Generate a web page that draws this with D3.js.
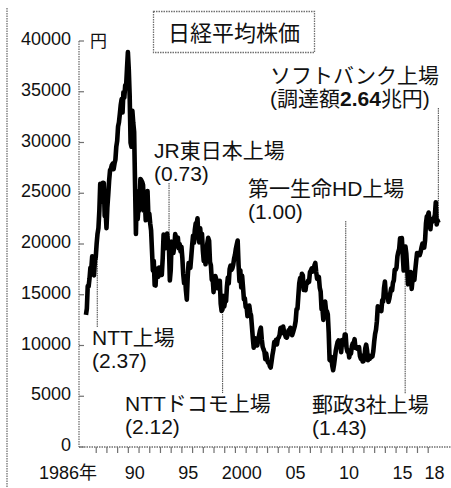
<!DOCTYPE html>
<html>
<head>
<meta charset="utf-8">
<script src="https://cdn.jsdelivr.net/npm/d3@7"></script>
<style>
  body { margin: 0; background: #fff; }
  text { font-family: "Liberation Sans", "Noto Sans CJK JP", sans-serif; fill: #111; }
</style>
</head>
<body>
<svg id="chart" width="451" height="488"></svg>
<script>
// Nikkei average, monthly closes (yen)
const close1986to1995 = [
  13024, 13640, 15860, 15825, 16592, 17654, 17620, 18787, 17853, 16910, 18326, 18701,
  20048, 21032, 21567, 23275, 25929, 24176, 24489, 26029, 26011, 22765, 23330, 21564,
  23623, 24885, 26260, 27271, 27417, 27769, 27912, 27366, 27924, 28299, 29579, 30159,
  31581, 31986, 32839, 33713, 34267, 32949, 34954, 34431, 35637, 35549, 37269, 38916,
  37189, 34591, 29980, 29585, 33131, 31940, 31036, 25978, 20984, 25194, 22454, 23849,
  23293, 26409, 26292, 26111, 25790, 23291, 24121, 22336, 23916, 25222, 22688, 22984,
  22023, 21339, 19346, 17391, 18348, 15952, 15910, 17555, 17399, 16767, 17684, 16925,
  17024, 16953, 18591, 20919, 20552, 19591, 20380, 21027, 20106, 19704, 16408, 17417,
  20229, 19997, 19112, 19725, 20974, 20644, 20449, 20629, 19564, 19990, 19263, 19723,
  18650, 17053, 16140, 16807, 15437, 14518, 16678, 18117, 17913, 17655, 18744, 19868
];
const close1996to2005 = [
  20813, 20125, 21407, 22041, 21956, 22531, 20693, 20167, 21556, 20466, 21020, 19361,
  18330, 18557, 18003, 19151, 20069, 20605, 20331, 18229, 17888, 16459, 16636, 15259,
  16628, 16832, 16527, 15641, 15671, 15830, 16379, 14108, 13406, 13565, 14884, 13842,
  14499, 14368, 15837, 16702, 16112, 17530, 17862, 17437, 17605, 17942, 18558, 18934,
  19540, 19960, 20337, 17974, 16332, 17411, 15727, 16861, 15747, 14540, 14649, 13786,
  13844, 12884, 12999, 13934, 13262, 12969, 11861, 10714, 9775, 10367, 10697, 10543,
  9998, 10588, 11025, 11493, 11764, 10622, 9877, 9619, 9383, 8640, 9216, 8579,
  8340, 8363, 7973, 7831, 8425, 9083, 9563, 10344, 10219, 10560, 10101, 10677,
  10784, 11042, 11715, 11762, 11236, 11858, 11326, 11082, 10824, 10771, 11031, 11489,
  11388, 11741, 11669, 11009, 11277, 11584, 11900, 12414, 13574, 13607, 14872, 16111
];
const close2006to2018 = [
  16650, 16205, 17060, 16907, 15467, 15505, 15457, 16141, 16128, 16399, 16274, 17226,
  17383, 17604, 17288, 17400, 17876, 18138, 17249, 16569, 16786, 16737, 15681, 15308,
  13592, 13603, 12526, 13850, 14339, 13481, 13377, 13073, 11260, 8577, 8512, 8860,
  7994, 7568, 8110, 8828, 9523, 9958, 10357, 10493, 10133, 10035, 9346, 10546,
  10198, 10126, 11090, 11057, 9769, 9383, 9537, 8824, 9369, 9202, 9937, 10229,
  10238, 10624, 9755, 9850, 9694, 9816, 9833, 8955, 8700, 8988, 8435, 8455,
  8803, 9723, 10084, 9521, 8543, 9007, 8695, 8840, 8870, 8928, 9446, 10395,
  11139, 11559, 12398, 13861, 13775, 13677, 13668, 13389, 14456, 14328, 15662, 16291,
  14915, 14841, 14828, 14304, 14632, 15162, 15621, 15425, 16174, 16414, 17460, 17451,
  17674, 18798, 19207, 19520, 20563, 20236, 20585, 18890, 17388, 19083, 19747, 19034,
  17518, 16027, 16759, 16666, 17235, 15576, 16569, 16887, 16450, 17425, 18308, 19114,
  19041, 19119, 18909, 19197, 19651, 20033, 19925, 19646, 20356, 22012, 22725, 22765,
  23098, 22068, 21454, 22468, 22202, 22305, 22554, 22865, 24120, 21920, 22351, 22100
];
const firstYear = 1986;

const yTicks = [0, 5000, 10000, 15000, 20000, 25000, 30000, 35000, 40000];
const xLabelYears = [1986, 1990, 1995, 2000, 2005, 2010, 2015, 2018];
const xLabelText = ["1986年", "90", "95", "2000", "05", "10", "15", "18"];

// big IPOs: name, amount raised (trillion yen), listing date (decimal year)
const ipoNames = ["NTT上場", "JR東日本上場", "NTTドコモ上場", "第一生命HD上場", "郵政3社上場", "ソフトバンク上場"];
const ipoAmounts = ["2.37", "0.73", "2.12", "1.00", "1.43", "2.64"];
const ipoDates = [1987.1, 1993.8, 1998.8, 2010.3, 2015.85, 2018.95];

// label placement (left x, first line centre y)
const ipoLabelPos = [[92, 337], [154, 150], [125, 403], [248, 188], [312, 404], [270, 75]];

const svg = d3.select("#chart");

const closes = close1986to1995.concat(close1996to2005, close2006to2018);
const series = closes.map((v, i) => ({ t: firstYear + (i + 0.5) / 12, v: v }));

const x = d3.scaleLinear().domain([1986, 2018]).range([85.5, 428.2]);
const y = d3.scaleLinear().domain([0, 40000]).range([447, 41]);

const axisColor = "#707070";

// page border on the left
svg.append("line")
  .attr("x1", 7).attr("x2", 7).attr("y1", 8).attr("y2", 488)
  .attr("stroke", axisColor).attr("stroke-width", 1.3).attr("stroke-dasharray", "1.5,1");

// title box
svg.append("rect")
  .attr("x", 153.5).attr("y", 11.5).attr("width", 161).attr("height", 41)
  .attr("fill", "none").attr("stroke", axisColor).attr("stroke-width", 1.3)
  .attr("stroke-dasharray", "1.5,1");
svg.append("text")
  .attr("x", 234).attr("y", 33).attr("text-anchor", "middle")
  .attr("dominant-baseline", "central")
  .style("font-size", "22px")
  .text("日経平均株価");

// y axis
const yAxis = svg.append("g");
yAxis.append("line")
  .attr("x1", 79).attr("x2", 79).attr("y1", y(40000)).attr("y2", y(0))
  .attr("stroke", axisColor).attr("stroke-width", 1.3).attr("stroke-dasharray", "1.5,1");
yAxis.selectAll(".tk").data(yTicks).join("line")
  .attr("x1", 79).attr("x2", 84)
  .attr("y1", d => y(d)).attr("y2", d => y(d))
  .attr("stroke", axisColor).attr("stroke-width", 1.2);
yAxis.selectAll(".lb").data(yTicks).join("text")
  .attr("x", 71).attr("y", d => y(d) - 2)
  .attr("text-anchor", "end").attr("dominant-baseline", "central")
  .style("font-size", "18px")
  .text(d => d);
svg.append("text")
  .attr("x", 90).attr("y", y(40000))
  .attr("dominant-baseline", "central")
  .style("font-size", "17px")
  .text("円");

// x axis
const xAxis = svg.append("g");
xAxis.append("line")
  .attr("x1", 79).attr("x2", 451).attr("y1", y(0)).attr("y2", y(0))
  .attr("stroke", axisColor).attr("stroke-width", 1.3).attr("stroke-dasharray", "1.5,1");
xAxis.selectAll(".tk").data(d3.range(1987, 2019)).join("line")
  .attr("x1", d => x(d)).attr("x2", d => x(d))
  .attr("y1", y(0)).attr("y2", y(0) + 6)
  .attr("stroke", axisColor).attr("stroke-width", 1.2);
xAxis.selectAll(".lb").data(xLabelYears).join("text")
  .attr("x", (d, i) => i === 0 ? 97 : x(d + 0.6))
  .attr("y", 473)
  .attr("text-anchor", (d, i) => i === 0 ? "end" : "middle")
  .attr("dominant-baseline", "central")
  .style("font-size", "18px")
  .text((d, i) => xLabelText[i]);

// value at a date, from the monthly series
function valueAt(t) {
  const i = Math.max(0, Math.min(series.length - 1, Math.round((t - firstYear) * 12 - 0.5)));
  return series[i].v;
}

// leader lines
ipoDates.forEach((t, i) => {
  const lx = x(t);
  const [px, py] = ipoLabelPos[i];
  const dataY = y(valueAt(t));
  let y1, y2;
  if (py < dataY) { y1 = py + 33; y2 = dataY; }   // label above the line
  else { y1 = dataY; y2 = py - 10; }              // label below the line
  svg.append("line")
    .attr("x1", lx).attr("x2", lx).attr("y1", y1).attr("y2", y2)
    .attr("stroke", "#555").attr("stroke-width", 1.1).attr("stroke-dasharray", "1.5,0.8");
});

// the index line
const line = d3.line()
  .x(d => x(d.t))
  .y(d => y(d.v));

svg.append("path")
  .datum(series)
  .attr("fill", "none")
  .attr("stroke", "#000")
  .attr("stroke-width", 4.6)
  .attr("stroke-linejoin", "round")
  .attr("d", line);

// IPO labels
ipoNames.forEach((name, i) => {
  const [px, py] = ipoLabelPos[i];
  svg.append("text")
    .attr("x", px).attr("y", py)
    .attr("dominant-baseline", "central")
    .style("font-size", "21px")
    .text(name);
  const t2 = svg.append("text")
    .attr("x", px).attr("y", py + 23)
    .attr("dominant-baseline", "central")
    .style("font-size", "21px");
  if (i === 5) {
    t2.append("tspan").text("(調達額");
    t2.append("tspan").style("font-weight", "bold").text(ipoAmounts[i]);
    t2.append("tspan").text("兆円)");
  } else {
    t2.text("(" + ipoAmounts[i] + ")");
  }
});
</script>
</body>
</html>
